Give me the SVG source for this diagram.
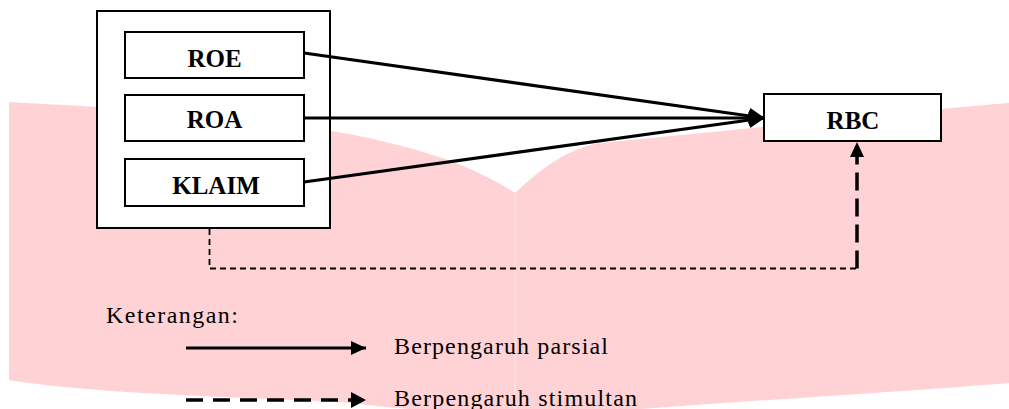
<svg xmlns="http://www.w3.org/2000/svg" width="1009" height="409" viewBox="0 0 1009 409">
<style>
.box{fill:#fff;stroke:#000;stroke-width:2}
.lbl{font-family:"Liberation Serif","Times New Roman",serif;font-weight:bold;font-size:25px;text-anchor:middle;fill:#000}
.leg{font-family:"Liberation Serif","Times New Roman",serif;font-size:24px;fill:#000}
.solid{stroke:#000;stroke-width:3.2;fill:none}
</style>
<defs>
<marker id="ah" markerUnits="userSpaceOnUse" markerWidth="16" markerHeight="16" refX="15" refY="8" orient="auto"><path d="M0,0 L16,8 L0,16 Z" fill="#000"/></marker>
<marker id="ahs" markerUnits="userSpaceOnUse" markerWidth="16" markerHeight="16" refX="15" refY="8" orient="auto"><path d="M0,1 L15,8 L0,15 Z" fill="#000"/></marker>
</defs>
<g id="watermark">
<path d="M9,102 C250,115 420,130 515,193 C545,165 570,148 600,143 C760,128 900,112 1009,103 L1009,383 C900,392 760,400 669,407 C600,412 540,415 515,415 C430,413 380,406 340,402 C200,396 80,392 9,380 Z" fill="#ffd3d5"/>
<line x1="515" y1="194" x2="515" y2="409" stroke="#ffe4e4" stroke-width="1"/>
</g>
<g id="group-box"><rect class="box" x="97" y="11" width="233" height="217"/></g>
<g id="roe"><rect class="box" x="125" y="32" width="179" height="46"/><text class="lbl" x="214.5" y="67">ROE</text></g>
<g id="roa"><rect class="box" x="125" y="95" width="179" height="46"/><text class="lbl" x="214.5" y="128">ROA</text></g>
<g id="klaim"><rect class="box" x="125" y="159" width="179" height="47"/><text class="lbl" x="216" y="194">KLAIM</text></g>
<g id="rbc"><rect class="box" x="764" y="94" width="177" height="47"/><text class="lbl" x="853" y="129">RBC</text></g>
<g id="connectors">
<line class="solid" x1="304" y1="53" x2="764" y2="118" marker-end="url(#ah)"/>
<line class="solid" x1="304" y1="118" x2="764" y2="118" marker-end="url(#ah)"/>
<line class="solid" x1="304" y1="182" x2="764" y2="118" marker-end="url(#ah)"/>
<polyline points="209.5,229 209.5,268.5 857,268.5" fill="none" stroke="#000" stroke-width="1.8" stroke-dasharray="6,4"/>
<line x1="857" y1="268.5" x2="857" y2="142" stroke="#000" stroke-width="3.5" stroke-dasharray="18,8" marker-end="url(#ahs)"/>
</g>
<g id="legend">
<text class="leg" x="106" y="323" textLength="132" lengthAdjust="spacing">Keterangan:</text>
<line class="solid" x1="186" y1="348" x2="366" y2="348" marker-end="url(#ahs)"/>
<text class="leg" x="394" y="354" textLength="214" lengthAdjust="spacing">Berpengaruh parsial</text>
<line x1="186" y1="400" x2="352" y2="400" stroke="#000" stroke-width="3.5" stroke-dasharray="17,10"/>
<path d="M351,392 L366,400 L351,408 Z" fill="#000"/>
<text class="leg" x="394" y="406" textLength="243" lengthAdjust="spacing">Berpengaruh stimultan</text>
</g>
</svg>
